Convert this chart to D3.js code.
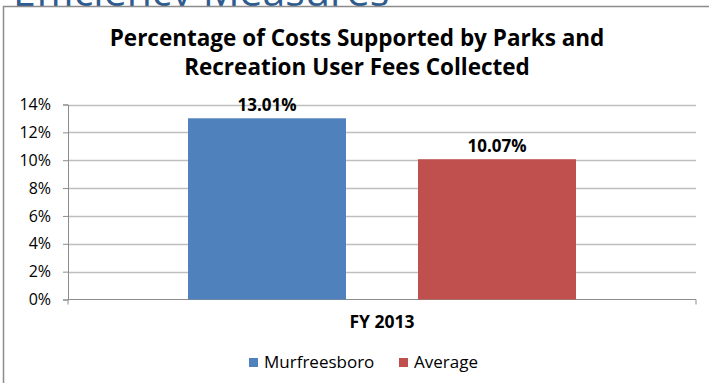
<!DOCTYPE html>
<html><head><meta charset="utf-8">
<script src="https://cdn.jsdelivr.net/npm/d3@7"></script>
<style>body{margin:0;background:#fff;}svg{display:block;}</style>
</head><body>
<script>
const categories = ["FY 2013"];
const seriesNames = ["Murfreesboro", "Average"];
const seriesValues = [[13.01], [10.07]];
const seriesColors = ["#4F81BD", "#C0504D"];
const yTicks = [0, 2, 4, 6, 8, 10, 12, 14];
const titleLines = ["Percentage of Costs Supported by Parks and", "Recreation User Fees Collected"];

const W = 709, H = 383;
const svg = d3.select("body").append("svg").attr("width", W).attr("height", H);
const font = "'Open Sans', sans-serif";

// heading behind the chart frame (cut off)
svg.append("text").attr("x", 13).attr("y", 6).attr("font-family", font)
  .attr("font-size", 41).attr("fill", "#2F5C8F").text("Efficiency Measures");

// chart frame
svg.append("rect").attr("x", 3.5).attr("y", 6.5).attr("width", W + 10).attr("height", H + 10)
  .attr("fill", "#fff").attr("stroke", "#8C8C8C").attr("stroke-width", 1.5);

const m = {left: 68, right: 696, top: 104.5, bottom: 299.5};
const y = d3.scaleLinear().domain([0, 14]).range([m.bottom, m.top]);
const x0 = d3.scaleBand().domain(categories).range([m.left, m.right]).paddingOuter(0).paddingInner(0);
const x1 = d3.scaleBand().domain(seriesNames).range([120, x0.bandwidth() - 120]).paddingInner(72 / 230);

// title
svg.append("g").selectAll("text").data(titleLines).join("text")
  .attr("x", 357).attr("y", (d, i) => 46 + i * 28.5).attr("text-anchor", "middle")
  .attr("font-family", font).attr("font-weight", "bold").attr("font-size", 22.5).attr("fill", "#000")
  .text(d => d);

// gridlines
svg.append("g").selectAll("line").data(yTicks.filter(t => t > 0)).join("line")
  .attr("x1", m.left).attr("x2", m.right).attr("y1", d => Math.round(y(d)) + 0.5).attr("y2", d => Math.round(y(d)) + 0.5)
  .attr("stroke", "#BEBEBE").attr("stroke-width", 1.3);

// y axis
const yAxis = d3.axisLeft(y).tickValues(yTicks).tickSize(5).tickPadding(12).tickFormat(d => d + "%");
const gy = svg.append("g").attr("transform", `translate(${m.left},0)`).call(yAxis);
gy.select(".domain").attr("stroke", "#8C8C8C");
gy.selectAll(".tick line").attr("stroke", "#8C8C8C");
gy.selectAll("text").attr("font-family", font).attr("font-size", 16).attr("fill", "#000");

// x axis
const xAxis = d3.axisBottom(x0).tickSize(0).tickPadding(16);
const gx = svg.append("g").attr("transform", `translate(0,${m.bottom})`).call(xAxis);
gx.select(".domain").attr("stroke", "#8C8C8C").attr("d", `M${m.left},5V0H${m.right}V5`);
gx.selectAll("text").attr("font-family", font).attr("font-weight", "bold").attr("font-size", 17.5).attr("fill", "#000");

// bars
const rows = seriesNames.map((s, i) => ({name: s, value: seriesValues[i][0], color: seriesColors[i], cat: categories[0]}));
svg.append("g").selectAll("rect").data(rows).join("rect")
  .attr("x", d => x0(d.cat) + x1(d.name)).attr("width", x1.bandwidth())
  .attr("y", d => y(d.value)).attr("height", d => y(0) - y(d.value))
  .attr("fill", d => d.color);

// labels
svg.append("g").selectAll("text").data(rows).join("text")
  .attr("x", d => x0(d.cat) + x1(d.name) + x1.bandwidth() / 2).attr("y", d => y(d.value) - 7)
  .attr("text-anchor", "middle").attr("font-family", font).attr("font-weight", "bold").attr("font-size", 17)
  .text(d => d.value.toFixed(2) + "%");

// legend
const leg = svg.append("g");
const legX = [249, 399];
rows.forEach((d, i) => {
  leg.append("rect").attr("x", legX[i]).attr("y", 358).attr("width", 9).attr("height", 9).attr("fill", d.color);
  leg.append("text").attr("x", legX[i] + 15).attr("y", 368).attr("font-family", font).attr("font-size", 17)
    .attr("fill", "#000").text(d.name);
});
</script>
</body></html>
